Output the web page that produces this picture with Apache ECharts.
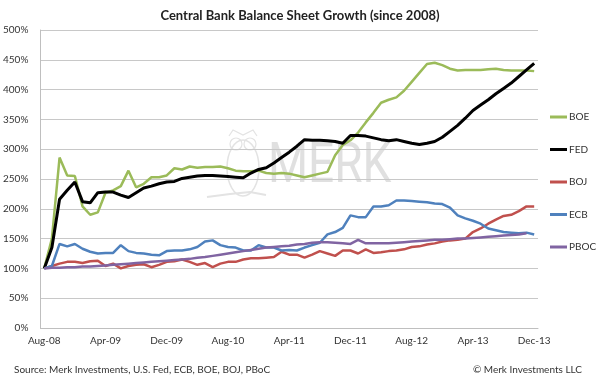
<!DOCTYPE html>
<html>
<head>
<meta charset="utf-8">
<script src="https://cdn.jsdelivr.net/npm/echarts@6/dist/echarts.min.js"></script>
<style>
html,body{margin:0;padding:0;background:#fff;}
#chart{width:600px;height:378px;}
</style>
</head>
<body>
<div id="chart"></div>
<script>
var months = ['Aug-08','Sep-08','Oct-08','Nov-08','Dec-08',
  'Jan-09','Feb-09','Mar-09','Apr-09','May-09','Jun-09','Jul-09','Aug-09','Sep-09','Oct-09','Nov-09','Dec-09',
  'Jan-10','Feb-10','Mar-10','Apr-10','May-10','Jun-10','Jul-10','Aug-10','Sep-10','Oct-10','Nov-10','Dec-10',
  'Jan-11','Feb-11','Mar-11','Apr-11','May-11','Jun-11','Jul-11','Aug-11','Sep-11','Oct-11','Nov-11','Dec-11',
  'Jan-12','Feb-12','Mar-12','Apr-12','May-12','Jun-12','Jul-12','Aug-12','Sep-12','Oct-12','Nov-12','Dec-12',
  'Jan-13','Feb-13','Mar-13','Apr-13','May-13','Jun-13','Jul-13','Aug-13','Sep-13','Oct-13','Nov-13','Dec-13'];

var boe = [100,150,286,256,255,204,190,194,227,231,238,264,236,242,253,253,256,268,266,271,269,
  270,270,271,268,264,263,263,264,260,259,260,259,256,253,256,259,262,290,307,315,328,345,
  361,378,383,387,398,413,428,443,445,441,435,432,433,433,433,434,435,433,432,432,432,431];

var fed = [100,135,216,231,245,212,210,227,228,228,223,219,227,235,238,242,245,246,251,253,255,
  256,256,255,254,253,252,260,266,269,277,286,295,305,316,315,315,314,313,310,323,323,322,
  319,316,314,316,313,310,308,310,313,320,330,340,352,365,374,383,393,402,411,422,433,444];

var boj = [100,104,108,111,111,109,112,113,104,108,100,104,106,107,102,106,111,112,115,111,106,
  109,102,108,111,111,115,117,117,118,119,128,123,123,118,123,129,125,121,130,130,125,132,
  126,127,129,130,132,136,137,140,142,145,147,148,150,161,167,175,182,188,190,196,204,204];

var ecb = [100,104,141,137,141,133,128,125,126,126,139,129,126,125,123,122,129,130,130,132,136,
  145,147,139,136,135,130,130,139,135,135,130,131,130,135,139,143,157,161,168,189,186,186,
  204,204,206,214,214,213,212,211,209,208,202,189,184,180,175,167,164,161,160,159,160,157];

var pboc = [100,101,101,102,102,103,103,104,105,106,107,108,109,110,111,112,113,114,115,116,118,
  119,121,123,125,127,129,131,133,135,136,137,138,140,141,143,144,144,143,142,141,148,142,
  142,142,142,143,144,145,146,147,148,148,149,150,150,151,152,153,154,155,156,157,159,null];

var yTicks = {min: 0, max: 500, step: 50};
var xLabelEvery = 8;

var FONT = 'Lato, "Open Sans", sans-serif';
var chart = echarts.init(document.getElementById('chart'), null, {renderer: 'canvas'});

function mk(name, data, color, w) {
  return {
    name: name, type: 'line', data: data, symbol: 'none', smooth: false,
    lineStyle: {color: color, width: w}, itemStyle: {color: color}, z: 3
  };
}

var option = {
  backgroundColor: '#ffffff',
  animation: false,
  title: [
    {text: 'Central Bank Balance Sheet Growth (since 2008)', left: 'center', top: 4,
     textStyle: {fontFamily: FONT, fontSize: 13, fontWeight: 'bold', color: '#222'}},
    {text: 'Source: Merk Investments, U.S. Fed, ECB, BOE, BOJ, PBoC', left: 9, top: 360,
     textStyle: {fontFamily: FONT, fontSize: 10, fontWeight: 'normal', color: '#333'}},
    {text: '\u00A9 Merk Investments LLC', right: 13, top: 360,
     textStyle: {fontFamily: FONT, fontSize: 10, fontWeight: 'normal', color: '#333'}}
  ],
  legend: {
    data: ['BOE','FED','BOJ','ECB','PBOC'],
    orient: 'vertical', left: 550, top: 110, padding: 0,
    icon: 'rect', itemWidth: 17, itemHeight: 3, itemGap: 18.5,
    textStyle: {fontFamily: FONT, fontSize: 10, color: '#333', lineHeight: 14, padding: [0, 0, 0, -3]}
  },
  grid: {left: 36, right: 62, top: 30, bottom: 50, containLabel: false},
  xAxis: {
    type: 'category', data: months, boundaryGap: true,
    axisLine: {show: true, lineStyle: {color: '#bfbfbf', width: 1}},
    axisTick: {show: false},
    axisLabel: {interval: xLabelEvery - 1, fontFamily: FONT, fontSize: 10, color: '#333', margin: 8},
    splitLine: {show: false}
  },
  yAxis: {
    type: 'value', min: yTicks.min, max: yTicks.max, interval: yTicks.step,
    axisLine: {show: true, lineStyle: {color: '#bfbfbf', width: 1}},
    axisTick: {show: false},
    axisLabel: {formatter: '{value}%', fontFamily: FONT, fontSize: 10, color: '#333', margin: 12},
    splitLine: {show: true, lineStyle: {color: '#c8c8c8', width: 1}}
  },
  graphic: [
    {type: 'group', z: 1, silent: true, children: [
      {type: 'ellipse', shape: {cx: 243, cy: 168, rx: 16, ry: 28}, style: {fill: 'none', stroke: '#e3e3e3', lineWidth: 1.5}},
      {type: 'circle', shape: {cx: 236, cy: 144, r: 6}, style: {fill: 'none', stroke: '#e3e3e3', lineWidth: 1.2}},
      {type: 'circle', shape: {cx: 250, cy: 144, r: 6}, style: {fill: 'none', stroke: '#e3e3e3', lineWidth: 1.2}},
      {type: 'polyline', shape: {points: [[229,136],[233,130],[243,135],[253,130],[257,136]]}, style: {fill: 'none', stroke: '#e3e3e3', lineWidth: 1.2}},
      {type: 'polyline', shape: {points: [[207,197],[230,194],[250,192],[266,195]]}, style: {fill: 'none', stroke: '#e3e3e3', lineWidth: 2}},
      {type: 'text', x: 268, y: 168, scaleX: 0.82, style: {text: 'MERK', font: '56px Roboto, sans-serif', fill: '#e0e0e0', verticalAlign: 'middle', align: 'left'}}
    ]}
  ],
  series: [
    mk('BOE', boe, '#9bbb59', 2.5),
    mk('FED', fed, '#000000', 3),
    mk('BOJ', boj, '#c0504d', 2.5),
    mk('ECB', ecb, '#4f81bd', 2.5),
    mk('PBOC', pboc, '#8064a2', 2.5)
  ]
};
chart.setOption(option);
</script>
</body>
</html>
